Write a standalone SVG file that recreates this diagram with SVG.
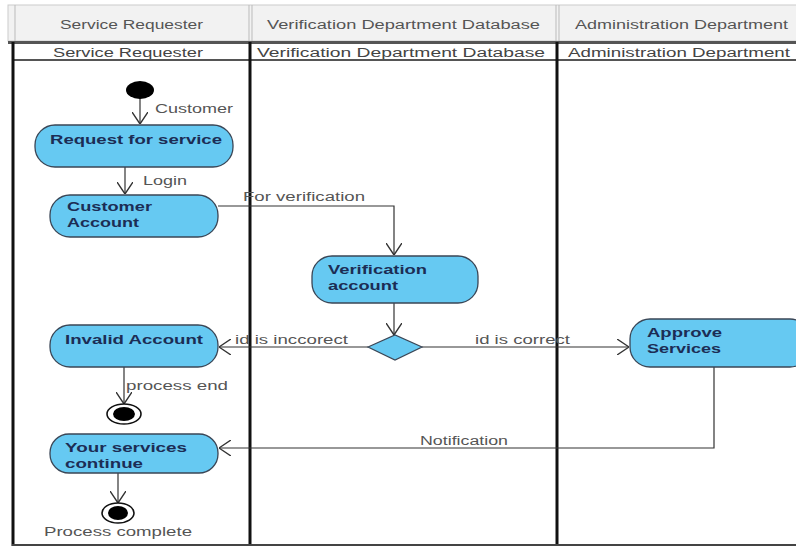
<svg xmlns="http://www.w3.org/2000/svg" width="796" height="548" viewBox="0 0 796 548">
<defs>
<marker id="open" viewBox="0 0 12 16" refX="12" refY="8" markerWidth="12" markerHeight="16" markerUnits="userSpaceOnUse" orient="auto">
<path d="M0,0 L12,8 L0,16" fill="none" stroke="#333" stroke-width="1.4"/>
</marker>
</defs>
<style>
.hdr{font-family:"Liberation Sans",Arial,sans-serif;font-size:12px;fill:#555}
.sub{font-family:"Liberation Sans",Arial,sans-serif;font-size:12px;fill:#444}
.act{fill:#66c9f2;stroke:#3a4656;stroke-width:1.3}
.nt{font-family:"Liberation Sans",Arial,sans-serif;font-size:12px;font-weight:bold;fill:#1c2d55}
.lbl{font-family:"Liberation Sans",Arial,sans-serif;font-size:12px;fill:#555}
.con{fill:none;stroke:#333;stroke-width:1.2}
.lane{stroke:#111;stroke-width:3}
</style>
<rect width="796" height="548" fill="#fff"/>
<g id="header">
<rect x="8" y="5" width="790" height="36" fill="#f2f2f2" stroke="#ccc"/>
<line x1="15" y1="5" x2="15" y2="41" stroke="#bbb"/>
<line x1="249" y1="5" x2="249" y2="41" stroke="#bbb"/>
<line x1="252" y1="5" x2="252" y2="41" stroke="#bbb"/>
<line x1="556" y1="5" x2="556" y2="41" stroke="#bbb"/>
<line x1="559" y1="5" x2="559" y2="41" stroke="#bbb"/>
<text class="hdr" x="60" y="29" textLength="143" lengthAdjust="spacingAndGlyphs">Service Requester</text>
<text class="hdr" x="267" y="29" textLength="273" lengthAdjust="spacingAndGlyphs">Verification Department  Database</text>
<text class="hdr" x="575" y="29" textLength="213" lengthAdjust="spacingAndGlyphs">Administration Department</text>
<line x1="8" y1="42.5" x2="796" y2="42.5" stroke="#555" stroke-width="3"/>
<text class="sub" x="53" y="57" textLength="150" lengthAdjust="spacingAndGlyphs">Service Requester</text>
<text class="sub" x="257" y="57" textLength="288" lengthAdjust="spacingAndGlyphs">Verification Department  Database</text>
<text class="sub" x="568" y="57" textLength="222" lengthAdjust="spacingAndGlyphs">Administration Department</text>
<line x1="13" y1="60" x2="796" y2="60" stroke="#555" stroke-width="2"/>
</g>
<g id="lanes">
<line class="lane" x1="13" y1="42" x2="13" y2="546"/>
<line class="lane" x1="250" y1="42" x2="250" y2="546"/>
<line class="lane" x1="557" y1="42" x2="557" y2="546"/>
<line x1="12" y1="545" x2="796" y2="545" stroke="#444" stroke-width="2"/>
</g>
<g id="connectors">
<line class="con" x1="140" y1="98" x2="140" y2="124" marker-end="url(#open)"/>
<text class="lbl" x="155" y="113" textLength="78" lengthAdjust="spacingAndGlyphs">Customer</text>
<line class="con" x1="125" y1="167" x2="125" y2="194" marker-end="url(#open)"/>
<text class="lbl" x="143" y="185" textLength="44" lengthAdjust="spacingAndGlyphs">Login</text>
<polyline class="con" points="218,206 394,206 394,255" marker-end="url(#open)"/>
<text class="lbl" x="243" y="201" textLength="122" lengthAdjust="spacingAndGlyphs">For verification</text>
<line class="con" x1="394" y1="303" x2="394" y2="335" marker-end="url(#open)"/>
<line class="con" x1="368" y1="347" x2="219" y2="347" marker-end="url(#open)"/>
<text class="lbl" x="235" y="344" textLength="113" lengthAdjust="spacingAndGlyphs">id is inccorect</text>
<line class="con" x1="422" y1="347" x2="629" y2="347" marker-end="url(#open)"/>
<text class="lbl" x="475" y="344" textLength="95" lengthAdjust="spacingAndGlyphs">id is correct</text>
<line class="con" x1="124" y1="367" x2="124" y2="404" marker-end="url(#open)"/>
<text class="lbl" x="126" y="390" textLength="102" lengthAdjust="spacingAndGlyphs">process end</text>
<polyline class="con" points="714,367 714,448 219,448" marker-end="url(#open)"/>
<text class="lbl" x="420" y="445" textLength="88" lengthAdjust="spacingAndGlyphs">Notification</text>
<line class="con" x1="118" y1="473" x2="118" y2="503" marker-end="url(#open)"/>
<text class="lbl" x="44" y="536" textLength="148" lengthAdjust="spacingAndGlyphs">Process complete</text>
</g>
<g id="start">
<ellipse cx="140" cy="90" rx="14" ry="9" fill="#000"/>
</g>
<g id="request">
<rect class="act" x="35" y="125" width="198" height="42" rx="20"/>
<text class="nt" x="50" y="144" textLength="172" lengthAdjust="spacingAndGlyphs">Request for service</text>
</g>
<g id="customerAccount">
<rect class="act" x="50" y="195" width="168" height="42" rx="20"/>
<text class="nt" x="67" y="211" textLength="85" lengthAdjust="spacingAndGlyphs">Customer</text>
<text class="nt" x="67" y="227" textLength="72" lengthAdjust="spacingAndGlyphs">Account</text>
</g>
<g id="verification">
<rect class="act" x="312" y="256" width="166" height="47" rx="20"/>
<text class="nt" x="328" y="274" textLength="99" lengthAdjust="spacingAndGlyphs">Verification</text>
<text class="nt" x="328" y="290" textLength="70" lengthAdjust="spacingAndGlyphs">account</text>
</g>
<g id="decision">
<polygon points="368,347 395,335 422,347 395,360" fill="#66c9f2" stroke="#3a4656" stroke-width="1.2"/>
</g>
<g id="invalid">
<rect class="act" x="50" y="325" width="168" height="42" rx="20"/>
<text class="nt" x="65" y="344" textLength="138" lengthAdjust="spacingAndGlyphs">Invalid Account</text>
</g>
<g id="approve">
<rect class="act" x="630" y="319" width="180" height="48" rx="20"/>
<text class="nt" x="647" y="337" textLength="75" lengthAdjust="spacingAndGlyphs">Approve</text>
<text class="nt" x="647" y="353" textLength="74" lengthAdjust="spacingAndGlyphs">Services</text>
</g>
<g id="end1">
<ellipse cx="124" cy="414" rx="17" ry="10" fill="#fff" stroke="#111" stroke-width="1.6"/>
<ellipse cx="124" cy="414" rx="11" ry="7" fill="#000"/>
</g>
<g id="continue">
<rect class="act" x="50" y="434" width="168" height="39" rx="19"/>
<text class="nt" x="65" y="452" textLength="122" lengthAdjust="spacingAndGlyphs">Your services</text>
<text class="nt" x="65" y="468" textLength="78" lengthAdjust="spacingAndGlyphs">continue</text>
</g>
<g id="end2">
<ellipse cx="118" cy="513" rx="16" ry="10" fill="#fff" stroke="#111" stroke-width="1.6"/>
<ellipse cx="118" cy="513" rx="10" ry="7" fill="#000"/>
</g>
</svg>
